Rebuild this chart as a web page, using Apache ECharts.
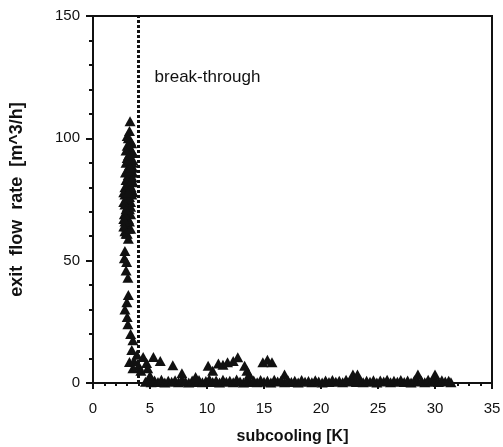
<!DOCTYPE html>
<html><head><meta charset="utf-8">
<script src="https://cdn.jsdelivr.net/npm/echarts@6/dist/echarts.min.js"></script>
<style>html,body{margin:0;padding:0;background:#fff}#c{width:503px;height:447px}</style>
</head><body><div id="c"></div>
<script>
// Data: [subcooling K, exit flow rate m^3/h]
var clusterHigh = [
 [3.25,107],[3.2,103],[3.1,100],[3.3,99],[3.0,97],[3.2,96],[3.4,95],[3.1,93],[3.3,92],[3.5,91],
 [2.9,90],[3.2,89],[3.5,88],[3.0,87],[3.4,86],[3.1,85],[3.3,84],[2.9,83],[3.5,82],[3.2,81],
 [3.0,80],[3.4,79],[3.5,78],[2.8,77],[3.2,76],[3.1,75],[3.3,74],[2.8,73],[3.0,72],[3.2,71],
 [3.1,70],[3.3,69],[2.9,68],[3.1,67],[2.8,66],[3.0,65],[2.9,64],[3.1,63],[2.8,62],[3.0,61],
 [3.45,90],[3.5,86],[3.45,84],[3.3,72],[3.4,77],[3.2,66],[2.7,64],[2.75,69],[3.35,80],[3.0,92],
 [2.9,95],[3.0,101],[3.4,98],[2.85,86],[2.8,80],[2.7,74],[2.7,78],[3.0,76],[2.9,71],[2.7,67],
 [2.9,61],[3.1,59],[3.3,63],[3.2,87],[3.1,78],[3.3,88],[3.0,83],[3.2,93],[3.5,94],[3.4,83]
];
var clusterLow = [
 [2.8,54],[2.95,49.5],[3.06,43],[2.97,33],[2.8,30],[3.06,24],[3.0,27],[2.9,46],[2.75,51],[3.1,36],
 [3.5,17.5],[3.4,13.5],[3.85,11.5],[4.4,10.6],[4.7,8.2],[3.2,8.6],[3.6,9],[4.0,7],[3.5,6],[4.2,5],[3.3,20]
];
var bumps = [
 [5.3,10.6],[5.9,9],[7.0,7.3],[7.8,4],[10.1,7],[10.5,5],[11.0,8],[11.4,7.5],[11.8,8.5],[12.3,9],
 [12.7,10.5],[13.3,7],[13.5,5],[13.7,3.5],[14.9,8.5],[15.3,9.5],[15.7,8.5],[16.8,3.5],[22.8,3.5],
 [23.2,3.5],[28.5,3.5],[30.0,3.5],[5.0,3],[9.0,2.5],[4.8,6]
];
var baseline = [
 [4.6,0.5],[4.9,1.2],[5.1,0.3],[5.4,1],[5.7,0.4],[6.0,1.3],[6.3,0.2],[6.6,0.9],[6.9,0.5],[7.2,1.1],
 [7.5,0.3],[7.8,1.4],[8.1,0.6],[8.4,0.2],[8.7,1.0],[9.0,0.4],[9.3,1.2],[9.6,0.3],[9.9,0.8],[10.2,1.5],
 [10.5,0.4],[10.8,1.0],[11.1,0.2],[11.4,1.3],[11.7,0.5],[12.0,0.9],[12.3,0.3],[12.6,1.4],[12.9,0.6],[13.2,0.2],
 [13.5,1.1],[13.8,0.4],[14.1,1.0],[14.4,0.3],[14.7,1.2],[15.0,0.5],[15.3,0.9],[15.6,0.2],[15.9,1.3],[16.2,0.6],
 [16.5,1.0],[16.8,0.3],[17.1,1.1],[17.4,0.4],[17.7,0.9],[18.0,0.2],[18.3,1.2],[18.6,0.5],[18.9,0.8],[19.2,0.3],
 [19.5,1.1],[19.8,0.6],[20.1,0.2],[20.4,1.0],[20.7,0.4],[21.0,1.2],[21.3,0.5],[21.6,0.9],[21.9,0.3],[22.2,1.3],
 [22.5,0.6],[22.8,1.0],[23.1,0.4],[23.4,1.2],[23.7,0.3],[24.0,0.9],[24.3,0.5],[24.6,1.1],[24.9,0.2],[25.2,1.0],
 [25.5,0.6],[25.8,1.3],[26.1,0.3],[26.4,0.9],[26.7,0.5],[27.0,1.2],[27.3,0.4],[27.6,1.0],[27.9,0.2],[28.2,1.1],
 [28.5,0.6],[28.8,0.9],[29.1,0.3],[29.4,1.3],[29.7,0.5],[30.0,1.0],[30.3,0.4],[30.6,1.1],[30.9,0.6],[31.2,0.9],[31.4,0.3]
];
var breakThroughX = 4;
var annotation = {text: 'break-through', x: 5.4, y: 125};

var font = '"Liberation Sans", Arial, Helvetica, sans-serif';
var ink = '#111';
var chart = echarts.init(document.getElementById('c'));
var allPts = baseline.concat(bumps, clusterLow, clusterHigh);
chart.setOption({
  animation: false,
  grid: {left: 93, right: 11, top: 16, bottom: 64, outerBoundsMode: 'none', containLabel: false,
         show: true, borderColor: ink, borderWidth: 2, backgroundColor: 'transparent'},
  xAxis: {
    type: 'value', min: 0, max: 35, interval: 5,
    name: 'subcooling [K]', nameLocation: 'middle', nameGap: 46,
    nameTextStyle: {fontFamily: font, fontWeight: 'bold', fontSize: 16, color: ink},
    axisLine: {onZero: false, lineStyle: {color: ink, width: 2}},
    axisTick: {show: true, inside: false, length: 6, lineStyle: {color: ink, width: 2}},
    minorTick: {show: true, splitNumber: 5, length: 3, lineStyle: {color: ink, width: 2}},
    axisLabel: {fontFamily: font, fontSize: 15, color: ink, margin: 18},
    splitLine: {show: false}
  },
  yAxis: {
    type: 'value', min: 0, max: 150, interval: 50,
    name: 'exit  flow  rate  [m^3/h]', nameLocation: 'middle', nameGap: 67, nameRotate: 90,
    nameTextStyle: {fontFamily: font, fontWeight: 'bold', fontSize: 18, color: ink},
    axisLine: {onZero: false, lineStyle: {color: ink, width: 2}},
    axisTick: {show: true, inside: false, length: 7, lineStyle: {color: ink, width: 2}},
    minorTick: {show: true, splitNumber: 5, length: 4, lineStyle: {color: ink, width: 2}},
    axisLabel: {fontFamily: font, fontSize: 15, color: ink, margin: 13},
    splitLine: {show: false}
  },
  series: [{
    type: 'scatter',
    symbol: 'triangle',
    symbolSize: [11, 10],
    itemStyle: {color: '#111', opacity: 1},
    data: allPts,
    markLine: {
      silent: true, symbol: 'none', animation: false,
      lineStyle: {color: ink, width: 3, type: [3, 2], opacity: 1},
      label: {show: false},
      data: [{xAxis: breakThroughX}]
    }
  }, {
    type: 'scatter',
    symbolSize: 0,
    silent: true,
    itemStyle: {opacity: 1},
    data: [[annotation.x, annotation.y]],
    label: {show: true, position: 'right', distance: 0, formatter: annotation.text,
            fontFamily: font, fontSize: 17, color: '#111'}
  }]
});
</script></body></html>
